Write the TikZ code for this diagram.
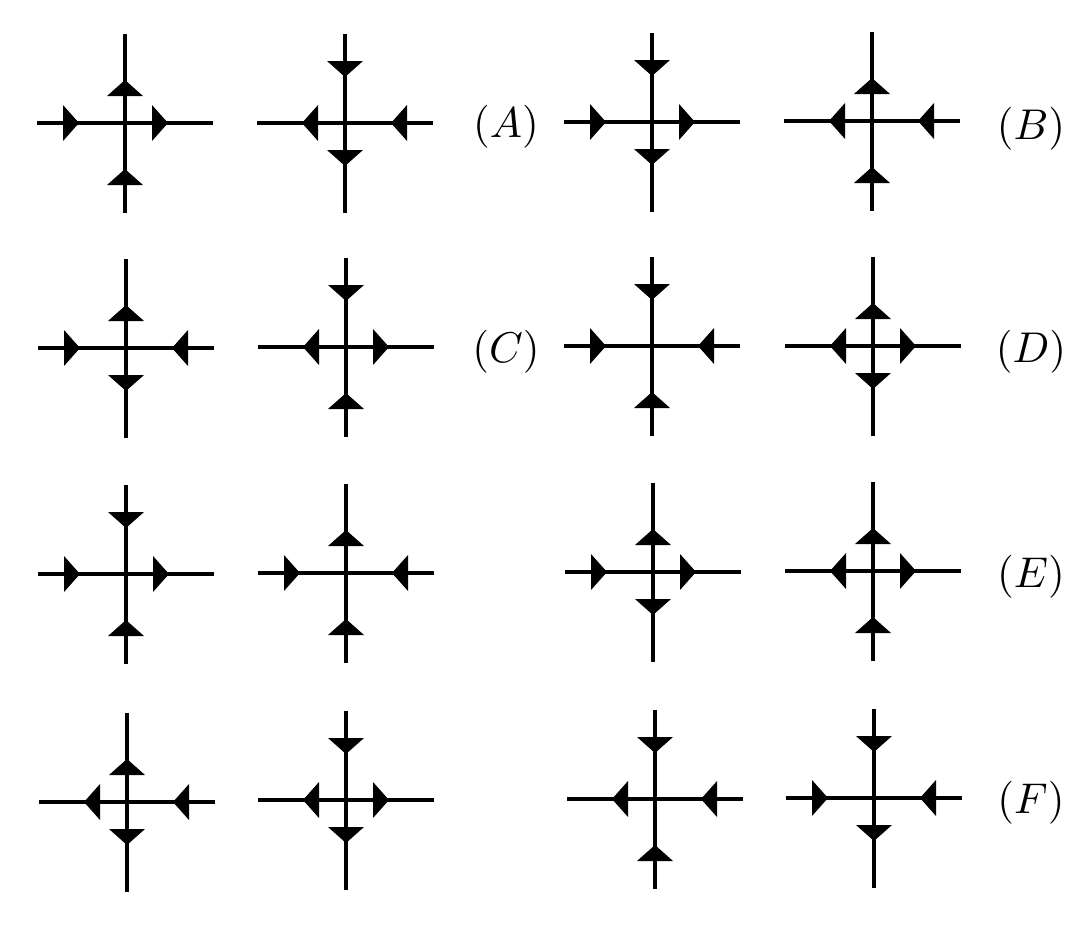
\documentclass[tikz,border=0pt]{standalone}
\begin{document}
\begin{tikzpicture}[x=1pt,y=-1pt,
  arm/.style={line width=4.4pt,black},
  inhead/.pic={\fill[black] (46,0) -- (62,18) -- (62,-18) -- cycle;},
  outhead/.pic={\fill[black] (43,0) -- (27,18) -- (27,-18) -- cycle;},
  lab/.style={scale=4.3,inner sep=0pt}]
\useasboundingbox (0,0) rectangle (1090,924);
\newcommand\vtx[6]{%
  \coordinate (#1) at (#2);
  \draw[arm] (#1) ++(-88,0) -- ++(176,0);
  \draw[arm] (#1) ++(0,-89) -- ++(0,179);
  \pic[rotate=180] at (#1) {#3head};
  \pic[rotate=0] at (#1) {#4head};
  \pic[rotate=90] at (#1) {#5head};
  \pic[rotate=270] at (#1) {#6head};
}
% row 1
\vtx{v1}{125,123}{in}{out}{out}{in}
\vtx{v2}{345,123}{out}{in}{in}{out}
\vtx{v3}{652,122}{in}{out}{in}{out}
\vtx{v4}{872,121}{out}{in}{out}{in}
% row 2
\vtx{v5}{126,348}{in}{in}{out}{out}
\vtx{v6}{346,347}{out}{out}{in}{in}
\vtx{v7}{652,346}{in}{in}{in}{in}
\vtx{v8}{873,346}{out}{out}{out}{out}
% row 3
\vtx{v9}{126,574}{in}{out}{in}{in}
\vtx{v10}{346,573}{in}{in}{out}{in}
\vtx{v11}{653,572}{in}{out}{out}{out}
\vtx{v12}{873,571}{out}{out}{out}{in}
% row 4
\vtx{v13}{127,802}{out}{in}{out}{out}
\vtx{v14}{346,800}{out}{out}{in}{out}
\vtx{v15}{655,799}{out}{in}{in}{in}
\vtx{v16}{874,798}{in}{in}{in}{out}
% labels
\node[lab] (lA) at (506,127) {$(A)$};
\node[lab] (lB) at (1031,129) {$(B)$};
\node[lab] (lC) at (506,352) {$(C)$};
\node[lab] (lD) at (1031,352) {$(D)$};
\node[lab] (lE) at (1031,577) {$(E)$};
\node[lab] (lF) at (1031,803) {$(F)$};
\end{tikzpicture}
\end{document}
